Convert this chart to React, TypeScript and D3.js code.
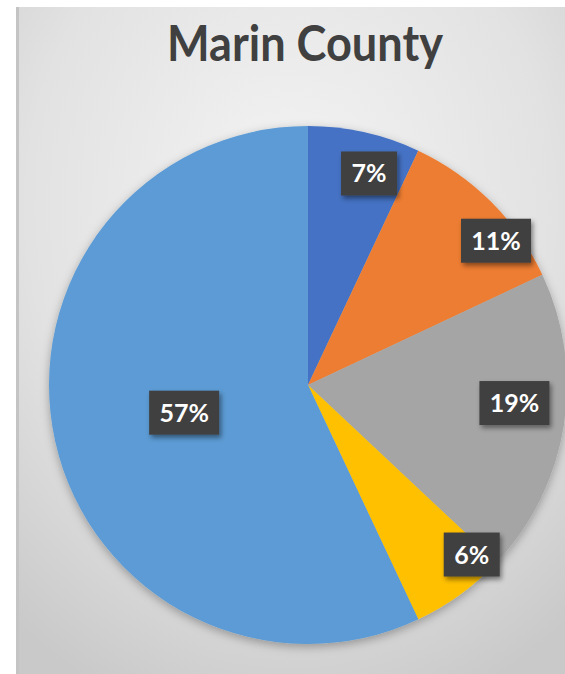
import React from "react";
import * as d3 from "d3";

const categories = ["A", "B", "C", "D", "E"];
const values = [7, 11, 19, 6, 57];
const labels = ["7%", "11%", "19%", "6%", "57%"];
const colors = ["#4472C4", "#ED7D31", "#A5A5A5", "#FFC000", "#5B9BD5"];
const title = "Marin County";
// label placement (fraction of radius, angle shift in degrees) per slice
const labelRadius = [0.85, 0.915, 0.8, 0.91, 0.49];
const labelShift = [3.5, 7.5, -4, -8, 0];

const W = 565;
const H = 674;

export default function App() {
  const cx = 308;
  const cy = 385;
  const r = 259;
  const pie = d3.pie<number>().sort(null).value((d) => d);
  const arcs = pie(values);
  const arc = d3.arc<d3.PieArcDatum<number>>().innerRadius(0).outerRadius(r);

  return (
    <svg
      width={W}
      height={H}
      style={{ position: "absolute", left: 0, top: 0 }}
      fontFamily="Lato, 'Open Sans', sans-serif"
    >
      <defs>
        <radialGradient id="bg" cx="0.5" cy="0.3" r="0.8">
          <stop offset="0" stopColor="#f4f4f4" />
          <stop offset="0.6" stopColor="#e2e2e2" />
          <stop offset="1" stopColor="#c9c9c9" />
        </radialGradient>
        <filter id="pieShadow" x="-20%" y="-20%" width="140%" height="140%">
          <feDropShadow dx="0" dy="3" stdDeviation="5" floodColor="#000" floodOpacity="0.3" />
        </filter>
        <filter id="boxShadow" x="-30%" y="-30%" width="160%" height="160%">
          <feDropShadow dx="2" dy="3" stdDeviation="2.5" floodColor="#000" floodOpacity="0.45" />
        </filter>
      </defs>
      <rect x={0} y={0} width={W} height={H} fill="#ffffff" />
      <rect x={16} y={7} width={W - 16} height={H - 7} fill="url(#bg)" />
      <rect x={16} y={7} width={3} height={H - 7} fill="#c4c4c4" />
      <text
        x={305}
        y={61}
        textAnchor="middle"
        fontSize={49}
        fontWeight="bold"
        fill="#404040"
        textLength={276}
        lengthAdjust="spacingAndGlyphs"
      >
        {title}
      </text>
      <g transform={`translate(${cx},${cy})`}>
        <g filter="url(#pieShadow)">
          {arcs.map((a, i) => (
            <path key={categories[i]} d={arc(a) || ""} fill={colors[i]} />
          ))}
        </g>
        {arcs.map((a, i) => {
          const mid = (a.startAngle + a.endAngle) / 2 + (labelShift[i] * Math.PI) / 180;
          const lr = r * labelRadius[i];
          const x = Math.sin(mid) * lr;
          const y = -Math.cos(mid) * lr;
          const bw = labels[i].length * 14 + 28;
          const bh = 44;
          return (
            <g key={"l" + i} transform={`translate(${x},${y})`}>
              <rect
                x={-bw / 2}
                y={-bh / 2}
                width={bw}
                height={bh}
                fill="#404040"
                filter="url(#boxShadow)"
              />
              <text
                x={0}
                y={9}
                textAnchor="middle"
                fontSize={25}
                fontWeight="bold"
                fill="#ffffff"
              >
                {labels[i]}
              </text>
            </g>
          );
        })}
      </g>
    </svg>
  );
}
